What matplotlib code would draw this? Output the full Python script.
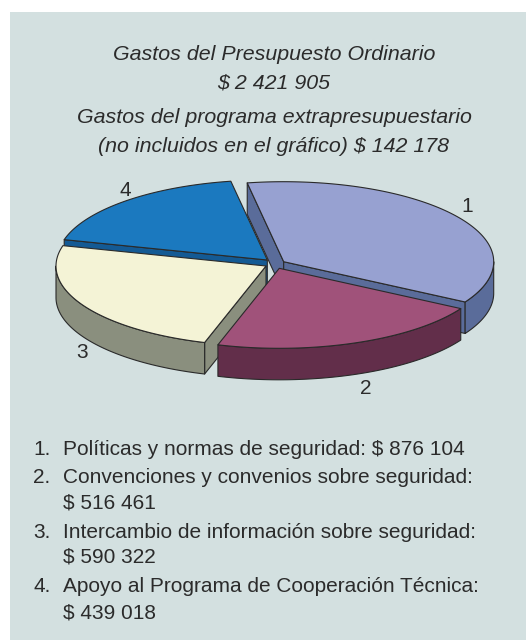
import numpy as np
import matplotlib
matplotlib.use("Agg")
import matplotlib.pyplot as plt
from matplotlib.patches import Polygon, Rectangle

values = [876104, 516461, 590322, 439018]
slice_labels = ["1", "2", "3", "4"]
title_lines = ["Gastos del Presupuesto Ordinario", "$ 2 421 905",
               "Gastos del programa extrapresupuestario",
               "(no incluidos en el gráfico) $ 142 178"]
list_numbers = ["1.", "2.", "", "3.", "", "4.", ""]
list_lines = ["Políticas y normas de seguridad: $ 876 104",
              "Convenciones y convenios sobre seguridad:",
              "$ 516 461",
              "Intercambio de información sobre seguridad:",
              "$ 590 322",
              "Apoyo al Programa de Cooperación Técnica:",
              "$ 439 018"]

top_colors = ["#97A1D1", "#A0527A", "#F4F3D6", "#1B79BF"]
side_colors = ["#5A6C9A", "#622E4A", "#8A8F7E", "#145A94"]
apexes = [(283.7, 261.7), (279.3, 268.3), (266.0, 266.0), (267.3, 260.0)]
label_pos = [(467, 207), (366, 389), (82, 352), (125, 191)]
A, B, DEPTH = 210.0, 80.0, 31.5
START = 100.0
EDGE = "#2a2a2a"
TEXT = "#2b2b2b"
FONT = "Liberation Sans"

fig = plt.figure(figsize=(5.26, 6.40), dpi=100, facecolor="white")
ax = fig.add_axes([0, 0, 1, 1])
ax.set_xlim(0, 526)
ax.set_ylim(640, 0)
ax.axis("off")
ax.add_patch(Rectangle((10, 12), 516, 628, fc="#D3E0E0", ec="none", zorder=0))


def arc(apex, t0, t1, n=120):
    t = np.radians(np.linspace(t0, t1, n))
    return np.column_stack([apex[0] + A * np.cos(t), apex[1] - B * np.sin(t)])


def face(points, color, z):
    ax.add_patch(Polygon(points, closed=True, fc=color, ec=EDGE, lw=0.8,
                         joinstyle="round", zorder=z))


spans = np.array(values) / np.sum(values) * 360.0
ends = START - np.cumsum(spans)
starts = ends + spans
down = np.array([0, DEPTH])

for z, i in enumerate([3, 0, 2, 1]):
    z0 = 2 + z * 4
    t0, t1 = starts[i], ends[i]
    apex = np.array(apexes[i])
    if np.cos(np.radians(t0)) < 0:
        p = arc(apex, t0, t0, 1)[0]
        face([p, apex, apex + down, p + down], side_colors[i], z0)
    if np.cos(np.radians(t1)) > 0:
        p = arc(apex, t1, t1, 1)[0]
        face([p, apex, apex + down, p + down], side_colors[i], z0)
    # outer rim: only the part of the arc facing the viewer (sin(theta) < 0)
    for k in range(-2, 2):
        a = max(t1, -180 + 360 * k)
        b = min(t0, 360 * k)
        if b > a:
            rim = arc(apex, b, a)
            face(np.vstack([rim, (rim + down)[::-1]]), side_colors[i], z0 + 1)
    face(np.vstack([[apex], arc(apex, t0, t1)]), top_colors[i], z0 + 2)

for s, (x, y) in zip(slice_labels, label_pos):
    ax.text(x, y, s, fontsize=15, family=FONT, color=TEXT, ha="center", va="center", zorder=40)

title_y = [60, 88, 123, 152]
for s, y in zip(title_lines, title_y):
    ax.text(274, y, s, fontsize=15.4, family=FONT, style="italic", color=TEXT,
            ha="center", va="baseline", zorder=40)

list_y = [455, 483, 508, 538, 563, 592, 618]
for n, s, y in zip(list_numbers, list_lines, list_y):
    if n:
        ax.text(33, y, n, fontsize=15, family=FONT, color=TEXT, va="baseline", zorder=40)
    ax.text(63, y, s, fontsize=15, family=FONT, color=TEXT, va="baseline", zorder=40)

fig.savefig("out.png", dpi=100, facecolor="white")
